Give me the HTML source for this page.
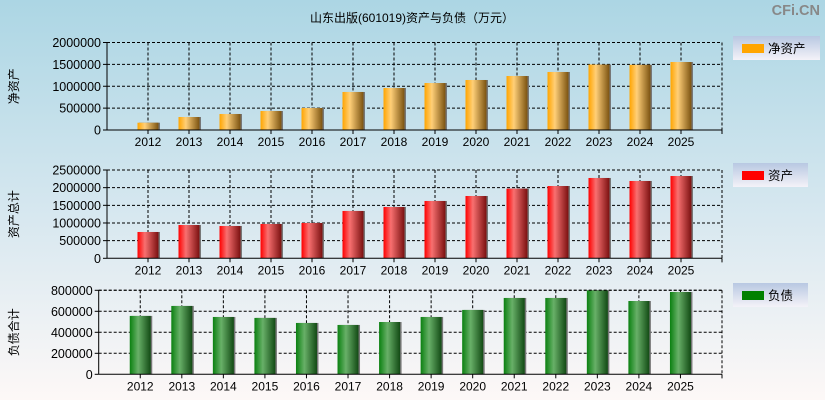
<!DOCTYPE html>
<html><head><meta charset="utf-8">
<style>
html,body{margin:0;padding:0;}
body{width:825px;height:400px;overflow:hidden;font-family:"Liberation Sans","Noto Sans CJK SC",sans-serif;}
</style></head>
<body>
<svg id="chart" width="825" height="400" xmlns="http://www.w3.org/2000/svg" font-family="Liberation Sans, Noto Sans CJK SC, sans-serif">
<defs>
<linearGradient id="bg" x1="0" y1="0" x2="0" y2="1">
<stop offset="0" stop-color="#acd6e4"/><stop offset="0.55" stop-color="#d8e8f0"/><stop offset="1" stop-color="#fdf8f7"/>
</linearGradient>
<linearGradient id="lg" x1="0" y1="0" x2="0" y2="1">
<stop offset="0" stop-color="#b8c8e2"/><stop offset="1" stop-color="#f4f2f8"/>
</linearGradient>
<linearGradient id="gOrange" x1="0" y1="0" x2="1" y2="0">
<stop offset="0" stop-color="#ffa500"/><stop offset="0.35" stop-color="#ffcf78"/><stop offset="1" stop-color="#7a5210"/>
</linearGradient>
<linearGradient id="gRed" x1="0" y1="0" x2="1" y2="0">
<stop offset="0" stop-color="#ff0000"/><stop offset="0.35" stop-color="#f87070"/><stop offset="1" stop-color="#7a1010"/>
</linearGradient>
<linearGradient id="gGreen" x1="0" y1="0" x2="1" y2="0">
<stop offset="0" stop-color="#0a8010"/><stop offset="0.4" stop-color="#68b068"/><stop offset="1" stop-color="#124a14"/>
</linearGradient>
</defs>
<rect width="825" height="400" fill="url(#bg)"/>
<text x="412" y="22" text-anchor="middle" font-size="12" fill="#000">山东出版(601019)资产与负债（万元）</text>
<text x="820" y="15" text-anchor="end" font-size="14.5" font-weight="bold" fill="#888">CFi.CN</text>
<g id="panels"></g>
</svg>
<script>
const years = ["2012","2013","2014","2015","2016","2017","2018","2019","2020","2021","2022","2023","2024","2025"];
const netAssets = [167000,297000,366000,434000,503000,869000,960000,1074000,1143000,1234000,1326000,1497000,1490000,1554000];
const totalAssets = [745000,943000,915000,972000,1000000,1340000,1453000,1623000,1764000,1972000,2047000,2274000,2189000,2330000];
const liabilities = [556000,651000,546000,537000,489000,470000,498000,546000,613000,727000,727000,800000,698000,784000];
const ticks1 = [0,500000,1000000,1500000,2000000];
const ticks2 = [0,500000,1000000,1500000,2000000,2500000];
const ticks3 = [0,200000,400000,600000,800000];

const NS="http://www.w3.org/2000/svg";
const root=document.getElementById('panels');
function mk(tag,attrs,parent){const e=document.createElementNS(NS,tag);for(const k in attrs)e.setAttribute(k,attrs[k]);(parent||root).appendChild(e);return e;}

function panel(p){
  const g=mk('g',{});
  
  
  const max=p.ticks[p.ticks.length-1];
  const yS=v=>p.bottom-(v/max)*(p.bottom-p.top);
  const step=(p.right-p.left)/(years.length+1);
  const xS=i=>p.left+step*(i+1);
  p.ticks.forEach(t=>{
    const y=yS(t);
    if(t>0){const l=mk('line',{x1:p.left,x2:p.right,y1:y,y2:y,stroke:'#000','stroke-dasharray':'3,2','stroke-width':1},g);
      
      }
    mk('line',{x1:p.left-4,x2:p.left,y1:y,y2:y,stroke:'#000'},g);
    const tx=mk('text',{x:p.left-6,y:y+4.5,'text-anchor':'end','font-size':12.5,fill:'#000'},g);
    tx.textContent=t;
    
    
  });
  years.forEach((yr,i)=>{
    const x=xS(i);
    const l=mk('line',{x1:x,x2:x,y1:p.top,y2:p.bottom,stroke:'#000','stroke-dasharray':'3,2'},g);
    
    
    mk('line',{x1:x,x2:x,y1:p.bottom,y2:p.bottom+4,stroke:'#000'},g);
    const tx=mk('text',{x:x,y:p.bottom+16,'text-anchor':'middle','font-size':12,fill:'#000'},g);
    tx.textContent=yr;
    
    
  });
  const bw=21;
  p.values.forEach((v,i)=>{
    const x=xS(i), y=yS(v);
    mk('rect',{x:x-bw/2+1.5,y:y,width:bw,height:p.bottom-y,fill:'#777'},g);
    const r=mk('rect',{x:x-bw/2,y:y,width:bw,height:p.bottom-y,fill:p.grad},g);
    
    
  });
  mk('line',{x1:p.left,x2:p.right,y1:p.top,y2:p.top,stroke:'#000','stroke-dasharray':'3,2'},g);
  mk('line',{x1:p.right,x2:p.right,y1:p.top,y2:p.bottom+4,stroke:'#000','stroke-dasharray':'3,2'},g);
  mk('line',{x1:p.left,x2:p.left,y1:p.top,y2:p.bottom,stroke:'#000'},g);
  mk('line',{x1:p.left,x2:p.right,y1:p.bottom,y2:p.bottom,stroke:'#000'},g);
  mk('line',{x1:p.right,x2:p.right,y1:p.bottom,y2:p.bottom+4,stroke:'#000'},g);
  const cy=(p.top+p.bottom)/2;
  const at=mk('text',{x:0,y:0,transform:`translate(18,${cy}) rotate(-90)`,'text-anchor':'middle','font-size':12,fill:'#000'},g);
  at.textContent=p.title;
  
  
  const lg=mk('g',{},g);
  
  
  mk('rect',{x:733,y:p.legY,width:p.legW,height:24,fill:'url(#lg)'},lg);
  mk('rect',{x:742,y:p.legY+8,width:22,height:9,fill:p.legColor},lg);
  const lt=mk('text',{x:768,y:p.legY+17,'font-size':12.5,fill:'#000'},lg);
  lt.textContent=p.legend;
}
panel({key:'net-assets',values:netAssets,ticks:ticks1,left:107,right:722,top:42.5,bottom:130,grad:'url(#gOrange)',title:'净资产',legend:'净资产',legColor:'#ffa500',legY:36,legW:87});
panel({key:'total-assets',values:totalAssets,ticks:ticks2,left:107,right:722,top:170,bottom:258.3,grad:'url(#gRed)',title:'资产总计',legend:'资产',legColor:'#ff0000',legY:163,legW:75});
panel({key:'liabilities',values:liabilities,ticks:ticks3,left:98.7,right:722,top:290.3,bottom:374.3,grad:'url(#gGreen)',title:'负债合计',legend:'负债',legColor:'#008000',legY:283,legW:75});
</script>
</body></html>
